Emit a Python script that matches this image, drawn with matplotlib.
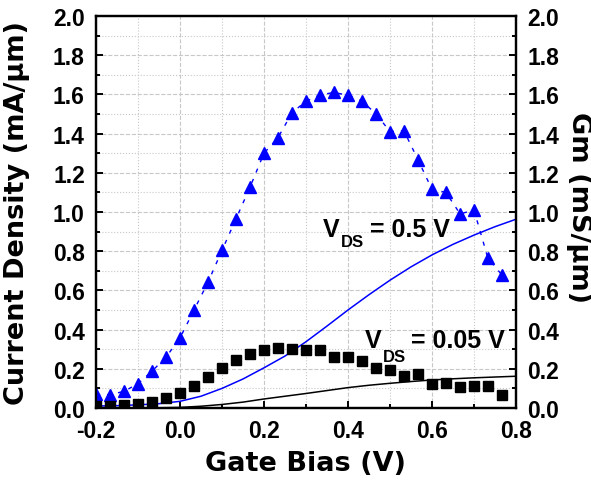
import matplotlib
matplotlib.use("Agg")
import matplotlib.pyplot as plt
from matplotlib.ticker import MultipleLocator

# ---- DATA ---- #
# gate bias of the measured transconductance points
vg_pts = [-0.200, -0.167, -0.133, -0.100, -0.067, -0.033, 0.000, 0.033, 0.067, 0.100,
          0.133, 0.167, 0.200, 0.233, 0.267, 0.300, 0.333, 0.367, 0.400, 0.433,
          0.467, 0.500, 0.533, 0.567, 0.600, 0.633, 0.667, 0.700, 0.733, 0.767]
gm_vds_05 = [0.070, 0.068, 0.085, 0.124, 0.187, 0.260, 0.357, 0.498, 0.643, 0.804,
             0.963, 1.128, 1.300, 1.378, 1.507, 1.565, 1.597, 1.610, 1.595, 1.566,
             1.500, 1.410, 1.415, 1.265, 1.115, 1.100, 0.990, 1.010, 0.765, 0.677]
gm_vds_005 = [0.010, 0.012, 0.015, 0.021, 0.030, 0.050, 0.078, 0.112, 0.158, 0.204,
              0.247, 0.274, 0.298, 0.306, 0.303, 0.298, 0.294, 0.258, 0.260, 0.241,
              0.204, 0.192, 0.163, 0.172, 0.121, 0.128, 0.105, 0.112, 0.112, 0.068]

# gate bias of the current curves
vg_line = [-0.20, -0.15, -0.10, -0.05, 0.00, 0.05, 0.10, 0.15, 0.20, 0.25, 0.30,
           0.35, 0.40, 0.45, 0.50, 0.55, 0.60, 0.65, 0.70, 0.75, 0.80]
id_vds_05 = [0.010, 0.012, 0.016, 0.022, 0.034, 0.060, 0.100, 0.148, 0.205, 0.265, 0.338,
             0.418, 0.500, 0.578, 0.652, 0.720, 0.781, 0.835, 0.882, 0.925, 0.963]
id_vds_005 = [0.000, 0.000, 0.000, 0.001, 0.003, 0.009, 0.018, 0.030, 0.046, 0.060, 0.074,
              0.089, 0.104, 0.116, 0.126, 0.135, 0.143, 0.149, 0.154, 0.158, 0.162]

tick_font = dict(family="Liberation Sans", weight="bold", size=16.5)
label_font = dict(family="DejaVu Sans", weight="bold", size=19.5)
note_font = dict(family="Liberation Sans", weight="bold", size=18)
sub_font = dict(family="Liberation Sans", weight="bold", size=12)

# ---- PLOT ---- #
fig = plt.figure(figsize=(5.91, 4.81), dpi=100)
ax = fig.add_axes([0.1624, 0.1497, 0.7107, 0.815])
ax2 = ax.twinx()

ax.plot(vg_line, id_vds_05, color="#0000ff", linewidth=1.1)
ax.plot(vg_line, id_vds_005, color="black", linewidth=1.1)

ax2.plot(vg_pts, gm_vds_05, color="#0000ff", linewidth=1.0, linestyle=(0, (3, 5)),
         marker="^", markersize=8.5)
ax2.plot(vg_pts, gm_vds_005, color="black", linestyle="none",
         marker="s", markersize=6.5)

for a in (ax, ax2):
    a.set_xlim(-0.2, 0.8)
    a.set_ylim(0, 2.0)
    a.xaxis.set_major_locator(MultipleLocator(0.2))
    a.xaxis.set_minor_locator(MultipleLocator(0.1))
    a.yaxis.set_major_locator(MultipleLocator(0.2))
    a.yaxis.set_minor_locator(MultipleLocator(0.1))
    for s in a.spines.values():
        s.set_linewidth(1.6)

ax.tick_params(which="both", direction="in", top=False, right=False, width=1.4)
ax.tick_params(which="major", length=5, pad=8)
ax.tick_params(which="minor", length=3)
ax2.tick_params(which="both", direction="in", width=1.4)
ax2.tick_params(which="major", length=5, pad=8)
ax2.tick_params(which="minor", length=3)

ax.grid(which="major", color="#c8c8c8", linestyle="--", linewidth=0.8)
ax.grid(which="minor", color="#c8c8c8", linestyle=":", linewidth=0.8)
ax.set_axisbelow(True)

ax.set_xticks([-0.2, 0.0, 0.2, 0.4, 0.6, 0.8])
ax.set_xticklabels(["-0.2", "0.0", "0.2", "0.4", "0.6", "0.8"], fontdict=tick_font)
yt = [0.0, 0.2, 0.4, 0.6, 0.8, 1.0, 1.2, 1.4, 1.6, 1.8, 2.0]
ax.set_yticks(yt)
ax.set_yticklabels([f"{v:.1f}" for v in yt], fontdict=tick_font)
ax2.set_yticks(yt)
ax2.set_yticklabels([f"{v:.1f}" for v in yt], fontdict=tick_font)

ax.set_xlabel("Gate Bias (V)", fontdict=label_font, va="center")
ax.set_ylabel("Current Density (mA/\u03bcm)", fontdict=label_font)
ax2.set_ylabel("Gm (mS/\u03bcm)", fontdict=label_font, rotation=270, va="center")
ax.xaxis.set_label_coords(0.5, -0.14)
ax.yaxis.set_label_coords(-0.157, 0.5)
ax2.yaxis.set_label_coords(1.15, 0.513)

# annotations
ax.text(0.340, 0.878, "V", ha="left", va="baseline", **note_font)
ax.text(0.383, 0.828, "DS", ha="left", va="baseline", **sub_font)
ax.text(0.452, 0.878, "= 0.5 V", ha="left", va="baseline", **note_font)
ax.text(0.440, 0.310, "V", ha="left", va="baseline", **note_font)
ax.text(0.483, 0.241, "DS", ha="left", va="baseline", **sub_font)
ax.text(0.551, 0.310, "= 0.05 V", ha="left", va="baseline", **note_font)

plt.savefig("out.png", dpi=100)
